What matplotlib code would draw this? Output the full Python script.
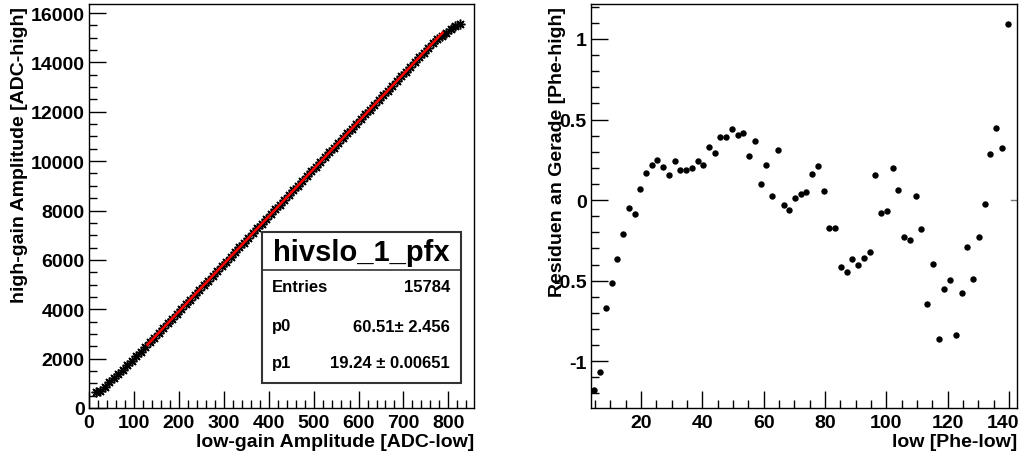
import numpy as np
import matplotlib
matplotlib.use('Agg')
import matplotlib.pyplot as plt
from matplotlib.ticker import MultipleLocator
from matplotlib.transforms import ScaledTranslation

plt.rcParams['font.family'] = ['Liberation Sans', 'DejaVu Sans']
plt.rcParams['font.weight'] = 'bold'

W, H = 1019, 460

# linke Seite: Profil high-gain vs low-gain
x_low = np.arange(15, 826, 10)
y_high = [640, 700, 865, 1040, 1200, 1365, 1535, 1725, 1905, 2095,
          2280, 2470, 2660, 2850, 3045, 3235, 3430, 3620, 3815, 4005,
          4200, 4390, 4585, 4775, 4970, 5160, 5355, 5545, 5740, 5930,
          6125, 6315, 6510, 6700, 6890, 7085, 7275, 7470, 7660, 7855,
          8045, 8240, 8430, 8625, 8815, 9010, 9200, 9390, 9585, 9775,
          9970, 10160, 10355, 10545, 10740, 10930, 11125, 11315, 11510, 11700,
          11895, 12085, 12280, 12470, 12665, 12855, 13050, 13240, 13430, 13625,
          13815, 14010, 14200, 14395, 14585, 14780, 14940, 15075, 15205, 15350,
          15480, 15565]

# Fit pol1
p0, p0_err = 60.51, 2.456
p1, p1_err = 19.24, 0.00651
fit_range = [130, 787]
entries = 15784
hist_name = 'hivslo_1_pfx'

# rechte Seite: Residuen
res_x = [4.67, 6.63, 8.48, 10.43, 12.28, 14.13, 15.98, 17.93, 19.78, 21.63,
         23.48, 25.33, 27.28, 29.13, 30.98, 32.83, 34.67, 36.63, 38.48, 40.33,
         42.17, 44.02, 45.87, 47.72, 49.67, 51.52, 53.37, 55.22, 57.07, 59.02,
         60.87, 62.72, 64.57, 66.52, 68.37, 70.22, 72.07, 73.91, 75.87, 77.72,
         79.57, 81.41, 83.37, 85.22, 87.07, 88.91, 90.87, 92.72, 94.57, 96.41,
         98.37, 100.22, 102.07, 103.91, 105.76, 107.72, 109.57, 111.41, 113.26, 115.22,
         117.07, 118.91, 120.76, 122.72, 124.57, 126.41, 128.26, 130.22, 132.07, 133.91,
         135.76, 137.72, 139.57]
res_y = [-1.18, -1.066, -0.669, -0.513, -0.364, -0.211, -0.046, -0.089, 0.070, 0.166,
         0.215, 0.248, 0.203, 0.157, 0.244, 0.184, 0.186, 0.197, 0.244, 0.215,
         0.331, 0.294, 0.391, 0.391, 0.443, 0.406, 0.414, 0.273, 0.369, 0.097,
         0.219, 0.027, 0.308, -0.033, -0.064, 0.012, 0.035, 0.052, 0.164, 0.213,
         0.058, -0.170, -0.170, -0.418, -0.443, -0.364, -0.402, -0.360, -0.323, 0.157,
         -0.083, -0.068, 0.197, 0.064, -0.230, -0.248, 0.025, -0.182, -0.646, -0.398,
         -0.861, -0.551, -0.493, -0.836, -0.576, -0.288, -0.489, -0.230, -0.023, 0.284,
         0.449, 0.325, 1.095]

FS = 14


def fx(px):
    return px / W


def fy(py):
    return 1 - py / H


fig = plt.figure(figsize=(W / 100, H / 100), dpi=100)

ax1 = fig.add_axes([fx(89), fy(409), fx(474) - fx(89), fy(5) - fy(409)])
ax2 = fig.add_axes([fx(591), fy(409), fx(1017) - fx(591), fy(5) - fy(409)])

for ax in (ax1, ax2):
    ax.tick_params(which='both', direction='in', top=False, right=False,
                   labelsize=FS, width=1)
    ax.tick_params(which='major', length=12)
    ax.tick_params(which='minor', length=6)
    ax.tick_params(axis='y', pad=3)
    ax.tick_params(axis='x', pad=4)
    for s in ax.spines.values():
        s.set_linewidth(1)

# --- links
ax1.plot(x_low, y_high, linestyle='none', marker=(8, 2, 0), markersize=7,
         color='black', markeredgewidth=1.1)
xf = np.array(fit_range)
ax1.plot(xf, p0 + p1 * xf, color='red', lw=1.8)
ax1.set_xlim(0, 857)
ax1.set_ylim(0, 16365)
ax1.xaxis.set_major_locator(MultipleLocator(100))
ax1.xaxis.set_minor_locator(MultipleLocator(20))
ax1.yaxis.set_major_locator(MultipleLocator(2000))
ax1.yaxis.set_minor_locator(MultipleLocator(500))
ax1.set_xlabel('low-gain Amplitude [ADC-low]', fontsize=FS, fontweight='bold',
               ha='right', va='center')
ax1.xaxis.set_label_coords(1.0, (409 - 443) / 404)
ax1.set_ylabel('high-gain Amplitude [ADC-high]', fontsize=FS, fontweight='bold',
               ha='right', va='center')
ax1.yaxis.set_label_coords((20 - 89) / 385, (409 - 7) / 404)

# Statistikbox
bx0, bx1, by0, by1, bymid = 262, 461, 233, 384, 271
box_col = '#333333'
fig.patches.append(plt.Rectangle((fx(bx0), fy(by1)), fx(bx1) - fx(bx0), fy(by0) - fy(by1),
                                 transform=fig.transFigure, facecolor='white',
                                 edgecolor=box_col, lw=1.5, zorder=5))
fig.lines.append(plt.Line2D([fx(bx0), fx(bx1)], [fy(bymid), fy(bymid)],
                            transform=fig.transFigure, color=box_col, lw=1.2, zorder=6))
fig.text(fx((bx0 + bx1) / 2), fy(253), hist_name, fontsize=21, fontweight='bold',
         ha='center', va='center', zorder=7)
rows = [('Entries', f'{entries}', 288),
        ('p0', f'{p0:.2f}\u00b1 {p0_err}', 327),
        ('p1', f'{p1:.2f} \u00b1 {p1_err}', 364)]
for name, val, yy in rows:
    fig.text(fx(272), fy(yy), name, fontsize=12, fontweight='bold',
             ha='left', va='center', zorder=7)
    fig.text(fx(450), fy(yy), val, fontsize=12, fontweight='bold',
             ha='right', va='center', zorder=7)

# --- rechts
ax2.plot(res_x, res_y, linestyle='none', marker='o', markersize=4.6,
         color='black', markeredgewidth=0)
ax2.set_xlim(3.7, 142.6)
ax2.set_ylim(-1.29, 1.217)
ax2.xaxis.set_major_locator(MultipleLocator(20))
ax2.xaxis.set_minor_locator(MultipleLocator(5))
ax2.yaxis.set_major_locator(MultipleLocator(0.5))
ax2.yaxis.set_minor_locator(MultipleLocator(0.1))
ax2.yaxis.set_major_formatter(plt.FuncFormatter(lambda v, p: f'{v:g}'))
ax2.axhline(0, xmin=0.985, xmax=1.0, color='#777777', lw=1)
ax2.set_xlabel('low [Phe-low]', fontsize=FS, fontweight='bold',
               ha='right', va='center')
ax2.xaxis.set_label_coords(1.0, (409 - 443) / 404)
ax2.set_ylabel('Residuen an Gerade [Phe-high]', fontsize=FS, fontweight='bold',
               ha='right', va='center')
ax2.yaxis.set_label_coords((558 - 591) / 426, (409 - 7) / 404)

fig.canvas.draw()
for ax in (ax1, ax2):
    for lab in ax.get_xticklabels() + ax.get_yticklabels():
        lab.set_fontweight('bold')

# letzte Beschriftung rechts etwas einruecken, damit sie im Bild bleibt
for tick in ax2.xaxis.get_major_ticks():
    if abs(tick.get_loc() - 140) < 1e-6:
        lab = tick.label1
        lab.set_transform(lab.get_transform() + ScaledTranslation(-0.06, 0, fig.dpi_scale_trans))

plt.savefig('out.png', dpi=100)
